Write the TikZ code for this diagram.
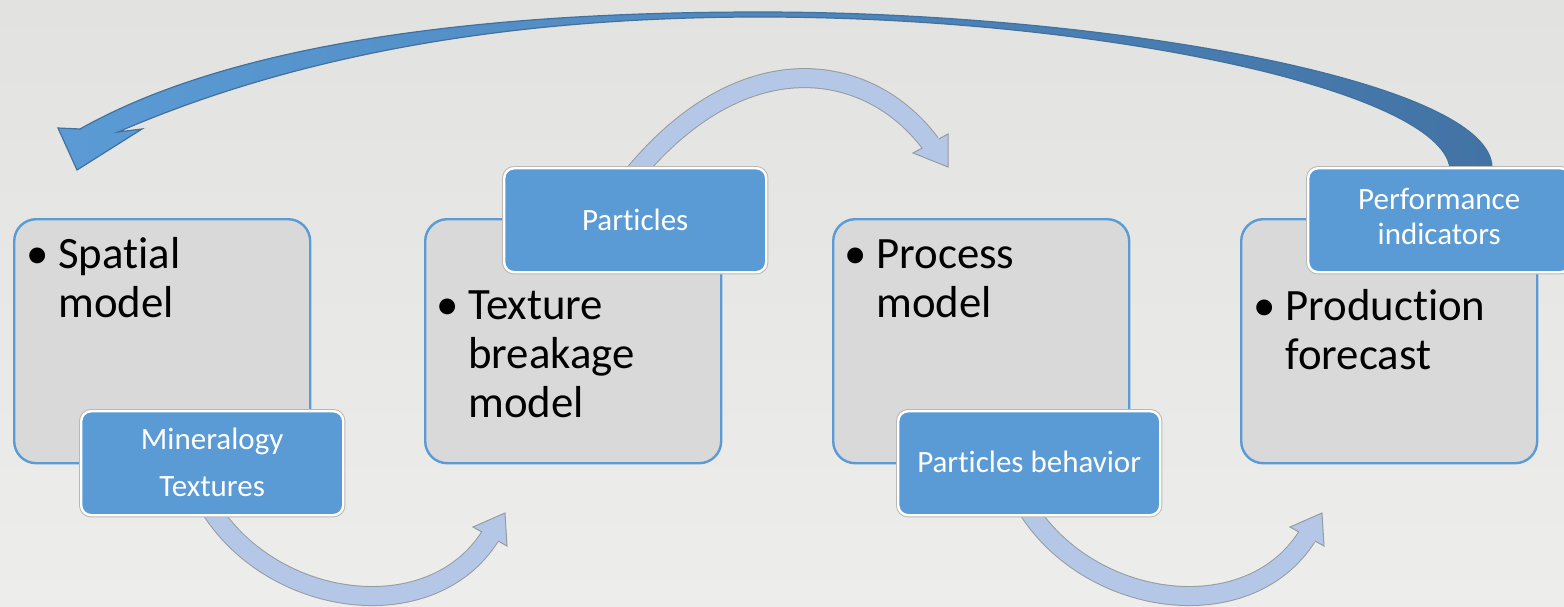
\documentclass[tikz,border=0pt]{standalone}
\usepackage{fontspec}
\setmainfont{Carlito}[Ligatures={NoCommon}]
\definecolor{bgtop}{RGB}{226,227,224}
\definecolor{bgbot}{RGB}{237,237,236}
\definecolor{boxgray}{RGB}{217,217,217}
\definecolor{accent}{RGB}{91,155,213}
\definecolor{accentdark}{RGB}{65,113,156}
\definecolor{bigright}{RGB}{67,115,165}
\definecolor{arrowlight}{RGB}{180,199,231}
\definecolor{arrowrim}{RGB}{150,155,160}
\newcommand{\itembul}{\llap{\makebox[21pt]{•}}}
\begin{document}
\begin{tikzpicture}[x=0.5pt,y=-0.5pt,
  graybox/.style={draw=accent, line width=1.2pt, fill=boxgray, rounded corners=11pt,
    minimum width=148pt, minimum height=122pt, inner sep=0pt, anchor=north west},
  graytext/.style={anchor=base west, inner sep=0pt, text=black},
  bluebox/.style={fill=accent, draw=white, line width=1.2pt,
    preaction={draw=black!28, line width=2.2pt}, rounded corners=5pt,
    minimum width=131pt, minimum height=52pt, inner sep=0pt, anchor=north west,
    text=white, align=center},
  lashaft/.style={draw=arrowrim, line width=10pt},
  lafill/.style={draw=arrowlight, line width=9pt},
  lahead/.style={fill=arrowlight, draw=arrowrim, line width=0.5pt, line join=miter},
  bigarrow/.style={draw=accentdark, line width=0.6pt, left color=accent, right color=bigright}
]
\useasboundingbox (0,0) rectangle (1564,606);
\clip (0,0) rectangle (1564,606);
\fill[top color=bgtop, bottom color=bgbot] (0,0) rectangle (1564,606);

% big feedback arrow
\coordinate (bigo) at (1492,178);
\coordinate (bigi) at (1450,178);
\path[bigarrow] (bigo) -- (1492,168) .. controls (1492,80) and (1100,12) .. (760,12)
  .. controls (450,12) and (220,50) .. (80,129) -- (58,128) -- (77,170) -- (142,129)
  -- (118,132) .. controls (250,75) and (450,17) .. (760,17)
  .. controls (1100,17) and (1440,90) .. (1450,168) -- (bigi) -- cycle;

% light arrow 1
\coordinate (a1s) at (207,503);
\coordinate (a1e) at (490,536.5);
\draw[lashaft] (a1s) .. controls (268,608) and (430,631) .. (a1e);
\filldraw[lahead] (473,527) -- (505,513) -- (507,546) -- cycle;
\draw[lafill] (a1s) .. controls (268,608) and (430,631) .. (a1e) -- ++(2.1,-3.4);

% light arrow 2
\coordinate (a2s) at (630,179);
\coordinate (a2e) at (930.5,143.5);
\draw[lashaft] (a2s) .. controls (742,40) and (869,61) .. (a2e);
\filldraw[lahead] (913,153) -- (948,167) -- (948,134) -- cycle;
\draw[lafill] (a2s) .. controls (742,40) and (869,61) .. (a2e) -- ++(2.4,3.2);

% light arrow 3
\coordinate (a3s) at (1024,503);
\coordinate (a3e) at (1307,536.5);
\draw[lashaft] (a3s) .. controls (1085,608) and (1247,631) .. (a3e);
\filldraw[lahead] (1290,527) -- (1322,513) -- (1324,546) -- cycle;
\draw[lafill] (a3s) .. controls (1085,608) and (1247,631) .. (a3e) -- ++(2.1,-3.4);

% gray boxes
\node[graybox] (g1) at (13,218) {};
\node[graybox] (g2) at (424,218) {};
\node[graybox] (g3) at (832,218) {};
\node[graybox] (g4) at (1240,218) {};

% blue boxes
\node[bluebox, font=\fontsize{15.5pt}{23.5pt}\selectfont] (b1) at (80,410)
  {\begin{tabular}{@{}c@{}}Mineralogy\\Textures\end{tabular}};
\node[bluebox, font=\fontsize{15.5pt}{25pt}\selectfont] (b2) at (503,167)
  {\begin{tabular}{@{}c@{}}Particles\end{tabular}};
\node[bluebox, font=\fontsize{15.5pt}{22.5pt}\selectfont] (b3) at (897,410)
  {\begin{tabular}{@{}c@{}}Particles behavior\end{tabular}};
\node[bluebox, font=\fontsize{15.5pt}{17.5pt}\selectfont] (b4) at (1307,167)
  {\begin{tabular}{@{}c@{}}Performance\\indicators\end{tabular}};

% gray box texts
\node[graytext, font=\fontsize{22.4pt}{24.5pt}\selectfont] (t1) at (58,268)
  {\begin{tabular}[t]{@{}l@{}}\itembul Spatial\\model\end{tabular}};
\node[graytext, font=\fontsize{22.4pt}{24.5pt}\selectfont] (t2) at (468,319)
  {\begin{tabular}[t]{@{}l@{}}\itembul Texture\\breakage\\model\end{tabular}};
\node[graytext, font=\fontsize{22.4pt}{24.5pt}\selectfont] (t3) at (876,268)
  {\begin{tabular}[t]{@{}l@{}}\itembul Process\\model\end{tabular}};
\node[graytext, font=\fontsize{22.4pt}{24.5pt}\selectfont] (t4) at (1285,320)
  {\begin{tabular}[t]{@{}l@{}}\itembul Production\\forecast\end{tabular}};
\end{tikzpicture}
\end{document}
